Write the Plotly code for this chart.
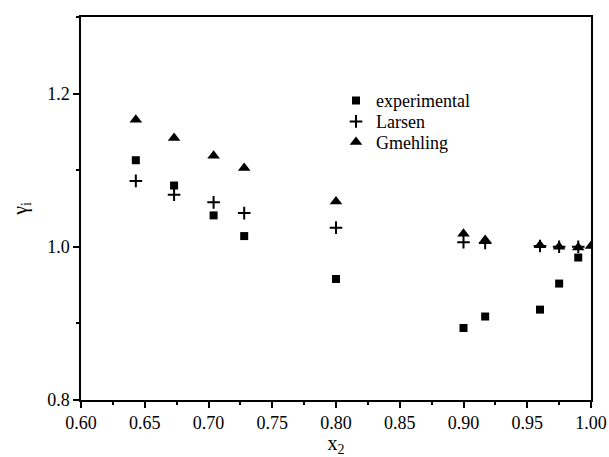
import plotly.graph_objects as go

# Data
exp_x = [0.643, 0.673, 0.704, 0.728, 0.800, 0.900, 0.917, 0.960, 0.975, 0.990]
exp_y = [1.113, 1.080, 1.041, 1.014, 0.958, 0.894, 0.909, 0.918, 0.952, 0.986]

lar_x = [0.643, 0.673, 0.704, 0.728, 0.800, 0.900, 0.917, 0.960, 0.975, 0.990]
lar_y = [1.086, 1.068, 1.058, 1.044, 1.025, 1.006, 1.005, 1.001, 1.000, 1.000]

gme_x = [0.643, 0.673, 0.704, 0.728, 0.800, 0.900, 0.917, 0.960, 0.975, 0.990, 1.000]
gme_y = [1.166, 1.142, 1.119, 1.103, 1.059, 1.017, 1.009, 1.002, 1.000, 0.999, 1.001]

x_ticks = [0.60, 0.65, 0.70, 0.75, 0.80, 0.85, 0.90, 0.95, 1.00]
y_ticks = [0.8, 1.0, 1.2]

FONT = "Liberation Serif"

fig = go.Figure()
fig.add_trace(go.Scatter(x=exp_x, y=exp_y, mode="markers", name="experimental",
                         legend="legend",
                         marker=dict(symbol="square", size=8, color="black")))
fig.add_trace(go.Scatter(x=lar_x, y=lar_y, mode="markers", name="Larsen",
                         legend="legend2",
                         marker=dict(symbol="cross-thin", size=9, color="black",
                                     line=dict(width=2, color="black"))))
fig.add_trace(go.Scatter(x=gme_x, y=gme_y, mode="markers", name="Gmehling",
                         legend="legend3",
                         marker=dict(symbol="triangle-up", size=11, color="black")))

leg_common = dict(x=0.50, xanchor="left", yanchor="middle",
                  bgcolor="rgba(0,0,0,0)", borderwidth=0,
                  font=dict(family=FONT, size=18, color="black"),
                  itemsizing="trace")

fig.update_layout(
    width=609, height=457,
    margin=dict(l=81, r=18, t=17, b=57),
    paper_bgcolor="white", plot_bgcolor="white",
    font=dict(family=FONT, size=18, color="black"),
    showlegend=True,
    legend=dict(y=0.7815, **leg_common),
    legend2=dict(y=0.7266, **leg_common),
    legend3=dict(y=0.6728, **leg_common),
    xaxis=dict(
        range=[0.6, 1.0], tickvals=x_ticks,
        ticktext=[f"{v:.2f}" for v in x_ticks],
        showgrid=False, zeroline=False, automargin=False,
        showline=True, linecolor="black", linewidth=1.5, mirror=True,
        ticks="outside", ticklen=6, tickwidth=1.5, tickcolor="black",
        minor=dict(dtick=0.025, tick0=0.6, ticks="outside", ticklen=3,
                   tickwidth=1.5, tickcolor="black", showgrid=False),
        title=dict(text="x<sub>2</sub>", font=dict(family=FONT, size=20, color="black"), standoff=2),
        tickfont=dict(family=FONT, size=18, color="black"),
    ),
    yaxis=dict(
        range=[0.8, 1.3], tickvals=y_ticks,
        ticktext=[f"{v:.1f}" for v in y_ticks],
        showgrid=False, zeroline=False, automargin=False,
        showline=True, linecolor="black", linewidth=1.5, mirror=True,
        ticks="outside", ticklen=6, tickwidth=1.5, tickcolor="black",
        minor=dict(dtick=0.1, tick0=0.8, ticks="outside", ticklen=3,
                   tickwidth=1.5, tickcolor="black", showgrid=False),
        title=dict(text="γ<sub>i</sub>", font=dict(family=FONT, size=20, color="black"), standoff=14),
        tickfont=dict(family=FONT, size=18, color="black"),
    ),
)

fig.write_html("out.html", config={"displayModeBar": False},
               post_script="document.body.style.margin='0';")
